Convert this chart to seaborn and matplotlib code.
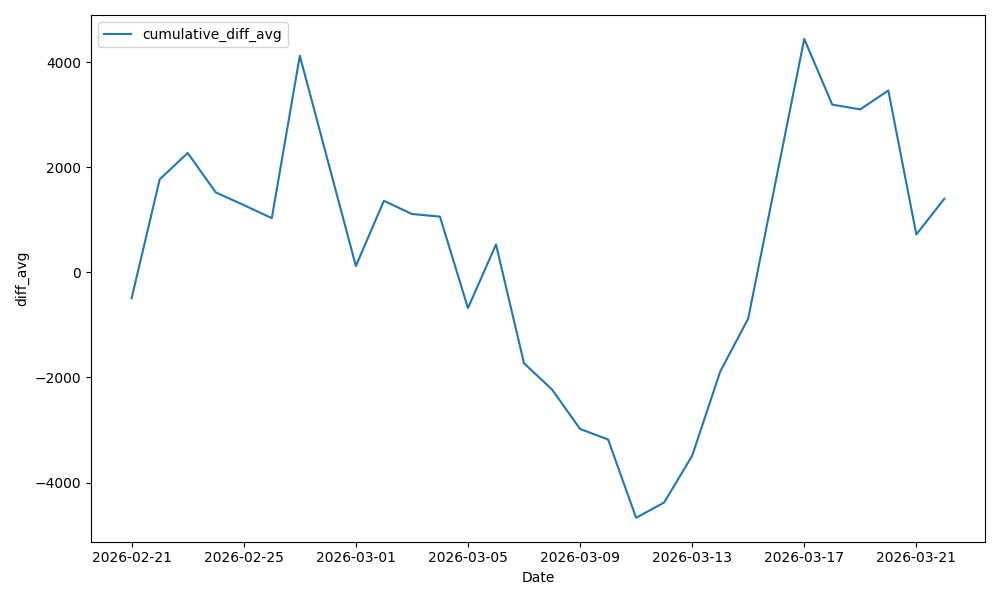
import pandas as pd
import matplotlib.pyplot as plt
import seaborn as sns

dates = pd.date_range('2026-02-21', '2026-03-22', freq='D')
diff_avg = [-490, 1770, 2270, 1520, 1280, 1030, 4120, 2120, 120, 1360,
            1110, 1060, -680, 530, -1730, -2230, -2980, -3180, -4670, -4380,
            -3490, -1890, -880, 1780, 4440, 3190, 3100, 3460, 720, 1400]

df = pd.DataFrame({'Date': dates, 'diff_avg': diff_avg})

fig, ax = plt.subplots(figsize=(10, 6), dpi=100)
sns.lineplot(data=df, x='Date', y='diff_avg', label='cumulative_diff_avg', ax=ax)
ax.legend(loc='upper left')
plt.tight_layout()
plt.savefig('out.png')
